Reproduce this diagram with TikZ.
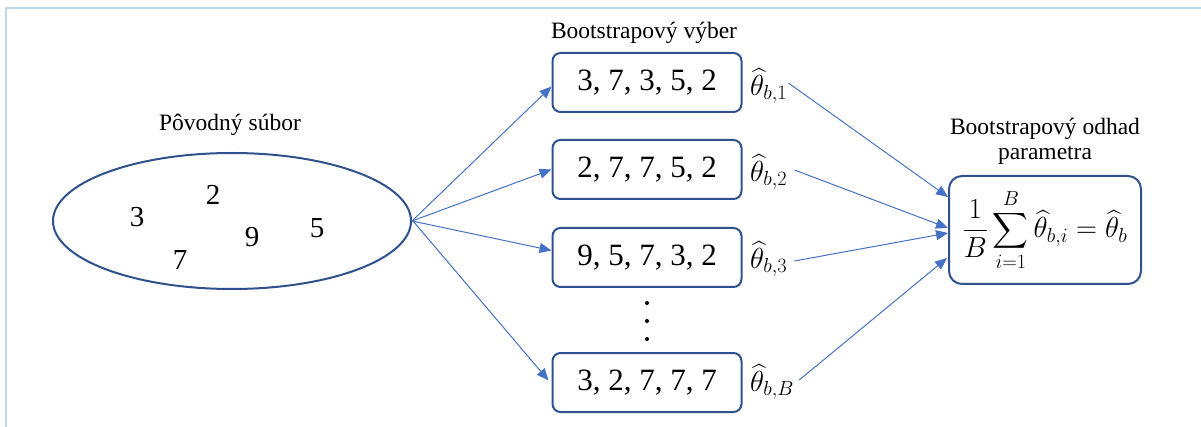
\documentclass[tikz,border=0pt]{standalone}
\usepackage{fix-cm}
\usepackage{amsmath}
\usepackage{fontspec}
\setmainfont{Liberation Serif}
\usetikzlibrary{arrows.meta,shapes.geometric}
\definecolor{boxline}{HTML}{2F528F}
\definecolor{arrowblue}{HTML}{4472C4}
\definecolor{framelight}{HTML}{BDD7EE}
\tikzset{
  sample/.style={draw=boxline, line width=2pt, rounded corners=8pt,
    minimum width=189pt, minimum height=59pt, inner sep=0pt,
    font=\fontsize{31}{36}\selectfont},
  result/.style={draw=boxline, line width=2pt, rounded corners=13pt,
    minimum width=192pt, minimum height=108pt, inner sep=0pt,
    font=\fontsize{29}{34}\selectfont},
  pool/.style={draw=boxline, line width=2pt, ellipse, minimum width=358pt,
    minimum height=136pt, inner sep=0pt},
  num/.style={font=\fontsize{29}{34}\selectfont, inner sep=0pt},
  caption/.style={font=\fontsize{23.5}{28}\selectfont, inner sep=0pt, align=center},
  est/.style={font=\fontsize{29}{34}\selectfont, inner sep=0pt, anchor=west},
  link/.style={draw=arrowblue, line width=1pt,
    -{Triangle[length=12pt,width=10pt]}},
}
\begin{document}
\begin{tikzpicture}[x=1pt, y=-1pt]
  \useasboundingbox (0,0) rectangle (1201,427);
  % light frame along the top and left edges
  \draw[framelight, line width=2pt] (6,427) -- (6,8) -- (1201,8);

  % original sample
  \node[caption] (poolcap) at (230,125) {Pôvodný súbor};
  \node[pool] (pool) at (232,221) {};
  \node[num] (n3) at (137,217) {3};
  \node[num] (n2) at (213,195) {2};
  \node[num] (n9) at (252,237) {9};
  \node[num] (n5) at (317,228) {5};
  \node[num] (n7) at (180,260) {7};

  % bootstrap samples
  \node[caption] (bcap) at (644,33) {Bootstrapový výber};
  \node[sample] (b1) at (647,82.5) {3, 7, 3, 5, 2};
  \node[sample] (b2) at (647,169.5) {2, 7, 7, 5, 2};
  \node[sample] (b3) at (647,257.5) {9, 5, 7, 3, 2};
  \node[sample] (b4) at (647,382.5) {3, 2, 7, 7, 7};
  \foreach \yy in {303,321,339} \fill (647,\yy) circle (2pt);

  % estimates from each sample
  \node[est] (t1) at (750,86) {$\widehat{\theta}_{b,1}$};
  \node[est] (t2) at (750,172) {$\widehat{\theta}_{b,2}$};
  \node[est] (t3) at (750,259) {$\widehat{\theta}_{b,3}$};
  \node[est] (t4) at (750,382) {$\widehat{\theta}_{b,B}$};

  % bootstrap estimate
  \node[caption] (rcap) at (1045,141) {Bootstrapový odhad\\[-3pt]parametra};
  \node[result] (r) at (1045,230)
    {$\displaystyle \frac{1}{B}\sum_{i=1}^{B}\widehat{\theta}_{b,i}=\widehat{\theta}_b$};

  % resampling arrows
  \draw[link] (pool.east) -- ([yshift=-4pt]b1.west);
  \draw[link] (pool.east) -- (b2.west);
  \draw[link] (pool.east) -- ([yshift=7pt]b3.west);
  \draw[link] ([xshift=1pt]pool.east) -- ([xshift=-3pt,yshift=2pt]b4.west);

  % aggregation arrows
  \draw[link] ([xshift=1pt,yshift=3pt]t1.east) -- ([yshift=33pt]r.west);
  \draw[link] ([xshift=7pt,yshift=2pt]t2.east) -- ([yshift=2pt]r.west);
  \draw[link] ([xshift=7pt,yshift=-2pt]t3.east) -- ([yshift=-3pt]r.west);
  \draw[link] ([xshift=5pt,yshift=2pt]t4.east) -- ([xshift=-1pt,yshift=-28pt]r.west);
\end{tikzpicture}
\end{document}
